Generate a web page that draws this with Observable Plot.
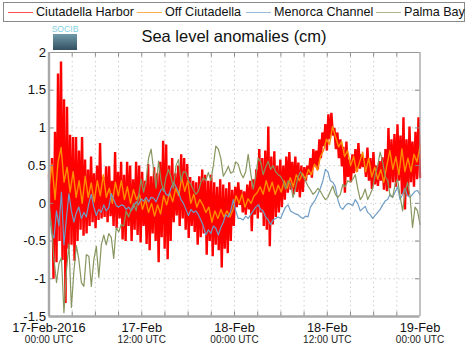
<!DOCTYPE html>
<html><head><meta charset="utf-8">
<script src="https://cdn.jsdelivr.net/npm/d3@7"></script>
<script src="https://cdn.jsdelivr.net/npm/@observablehq/plot@0.6"></script>
<style>
html,body{margin:0;padding:0;background:#fff;width:468px;height:353px;overflow:hidden;font-family:"Liberation Sans",sans-serif}
#wrap{position:relative;width:468px;height:353px}
#legend{position:absolute;left:3px;top:2px;width:460px;height:18px;border:1px solid #8a8a8a;font-size:12.6px;color:#111;background:#fff}
#legend span{position:absolute;top:1px;white-space:nowrap;line-height:16px}
#legend i{position:absolute;top:8.5px;height:1.5px;width:25px}
#title{position:absolute;left:0;width:468px;text-align:center;top:26px;font-size:16.5px;line-height:20px;color:#111}
#logoT{position:absolute;left:50px;top:25px;width:30px;text-align:center;font-size:8.6px;line-height:9px;color:#7fd0e0}
#logoB{position:absolute;left:53px;top:34px;width:24px;height:16px;background:linear-gradient(#6f9aaa,#34505f)}
#chart{position:absolute;left:0;top:0}
</style></head><body>
<div id="wrap">
<div id="chart"></div>
<div id="legend"></div>
<div id="logoT">SOCIB</div><div id="logoB"></div>
<div id="title">Sea level anomalies (cm)</div>
</div>
<script>
const seriesNames = ["Ciutadella Harbor","Off Ciutadella","Menorca Channel","Palma Bay"];
const seriesColors = ["#ff0000","#ff8c00","#6f9cc4","#87965f"];
const redHigh = [.38,.6,.95,1.72,1.88,1.38,1.28,.91,.88,.88,.7,.88,.58,.45,.62,.4,.5,.8,.35,.49,.49,.3,.68,.42,.55,.38,.55,.5,.32,.55,.5,.42,.3,.52,.36,.48,.4,.55,.83,.78,.5,.6,.4,.5,.65,.6,.52,.35,.3,.28,.36,.45,.38,.3,.38,.28,.22,.32,.25,.2,.28,.18,.22,.28,.18,.16,.25,.3,.32,.45,.72,.6,.7,1.02,.62,.69,.5,.58,.5,.62,.68,.55,.62,.54,.5,.48,.5,.6,.72,.7,.85,.94,1.05,1.18,1.2,1.0,.94,.85,.75,.82,.58,.65,.72,.8,.65,.6,.74,.6,.68,.5,.56,.61,.72,1.0,.85,.92,1.05,.9,1.14,.85,1.02,.82,.95,1.14];
const redLow = [-.3,-1.0,-.78,-.5,-.75,-1.32,-.6,-.55,-.76,-.5,-.35,-.43,-.4,-.3,-.25,-.33,-.22,-.2,-.18,-.25,-.17,-.3,-.33,-.2,-.48,-.5,-.3,-.5,-.35,-.42,-.52,-.3,-.54,-.62,-.4,-.5,-.78,-.45,-.6,-.74,-.5,-.25,-.16,-.3,-.2,-.35,-.46,-.3,-.38,-.55,-.45,-.4,-.68,-.5,-.7,-.55,-.62,-.85,-.6,-.66,-.5,-.3,-.05,-.02,-.12,-.15,-.08,-.37,-.15,-.2,-.12,-.3,-.35,-.57,-.28,-.18,-.12,-.05,.05,.14,.18,.12,.15,.08,.15,.3,.38,.34,.49,.45,.6,.76,.7,.85,.9,.72,.6,.49,.14,.35,.28,.4,.42,.46,.48,.35,.3,.19,.25,.23,.3,.18,.16,.2,.28,.22,.3,.12,-.08,.1,.28,.22,.32,.35];
const orangeValues = [.2,.52,.05,.55,.74,.28,.48,.15,.42,.08,.3,.0,.36,.08,.27,.02,.3,.1,.38,.08,.2,.0,.28,.1,.3,.05,.22,.0,.18,.05,.12,-.08,.05,-.12,.0,-.17,-.02,-.14,.1,-.02,.14,.02,.2,.1,.34,.16,.3,.0,.12,-.05,.05,-.02,-.12,-.05,-.25,-.1,-.2,-.08,-.18,-.1,-.18,-.08,.1,.0,.12,-.05,.06,.0,.1,.14,.22,.12,.3,.16,.28,.12,.24,.15,.3,.2,.34,.22,.38,.3,.4,.32,.45,.38,.52,.44,.62,.7,.85,.78,1.02,.88,.75,.82,.62,.7,.5,.62,.42,.55,.68,.42,.6,.35,.48,.32,.45,.28,.5,.7,.45,.62,.38,.72,.42,.6,.42,.65,.55,.75];
const blueValues = [0,-.4,-.46,-.1,-.3,.15,-.55,-.2,.13,-.1,-.25,-.12,-.05,-.2,-.12,-.18,0,.12,-.05,-.16,-.08,-.12,-.02,-.1,-.06,.13,.05,-.03,-.05,-.02,-.03,-.08,-.05,-.1,-.04,.02,-.02,.06,.03,.08,.02,.08,.07,.02,.1,.18,.2,.12,.1,.2,.28,.22,.15,.05,0,-.08,-.16,-.08,-.12,-.1,-.15,-.22,-.3,-.42,-.35,-.4,-.3,-.33,-.42,-.32,-.25,-.15,-.18,-.1,.05,-.1,-.2,-.2,-.22,-.17,-.2,-.15,-.1,-.05,-.02,-.08,-.1,-.18,-.22,-.28,-.22,-.2,-.18,-.2,-.12,-.05,-.02,-.1,-.12,-.14,-.15,-.18,-.2,-.17,-.18,-.05,0,.05,.12,.2,.3,.45,.42,.3,.28,.22,.05,-.05,-.08,-.03,0,-.01,-.03,.05,0,-.1,-.07,-.04,-.12,-.15,-.2,-.16,-.12,-.08,-.02,.03,.05,.12,.08,.15,.22,.05,.12,.2,.1,.08,.12,.16,.17,.12];
const oliveValues = [0,-.3,-.74,-1.05,-.8,-.72,-1.45,-.9,-.54,-1.38,-.9,-.56,-.75,-1.05,-1.1,-.68,-.7,-1.1,-.75,-.57,-.98,-.55,-.42,-.55,-.4,-.45,-.73,-.32,-.38,-.28,-.3,-.1,-.18,-.08,0,-.1,.1,.32,.15,.3,.6,.72,.45,.2,.56,.3,.16,.35,.45,.35,.2,.5,.58,.3,.42,.41,.3,.25,.18,.12,.16,.28,.34,.3,.41,.3,.5,.76,.72,.6,.36,.42,.49,.4,.42,.55,.52,.4,.34,.42,.65,.4,.19,.35,.6,.55,.38,.48,.56,.45,.5,.42,.38,.36,.3,.19,.3,.26,.08,.2,.35,.42,.36,.3,.23,.18,.12,.15,.2,.16,.1,.05,.08,.16,.23,.12,.08,.12,.25,.22,.3,.28,.32,.38,.2,.05,.1,.19,.05,.12,.2,.38,.5,.68,.55,.36,.3,.1,.08,.25,.32,.1,-.1,.15,.28,.1,-.32,-.05,-.1,-.28];
const yTicks = [-1.5,-1,-.5,0,.5,1,1.5,2];
const dateLabels = ["17-Feb-2016","17-Feb","18-Feb","18-Feb","19-Feb"];
const timeLabels = ["00:00 UTC","12:00 UTC","00:00 UTC","12:00 UTC","00:00 UTC"];
const labelHours = [0,12,24,36,48];

const t0 = Date.UTC(2016,1,17), t1 = Date.UTC(2016,1,19);
const at = h => new Date(t0 + h*3600e3);
const spread = (vals,i) => at(i*48/(vals.length-1));
const red = redHigh.flatMap((v,i)=>[
  {t:at(i*48/(redHigh.length-.5)),v},
  {t:at((i+.5)*48/(redHigh.length-.5)),v:redLow[i]}
]);
const ser = vals => vals.map((v,i)=>({t:spread(vals,i),v}));
const hourTicks = d3.range(0,49,3).map(at);
const inner = hourTicks.slice(1,-1);
const labels = labelHours.map((h,i)=>({t:at(h),d:dateLabels[i],u:timeLabels[i]}));
const ff = '"Liberation Sans",sans-serif';
const frameC = "#a8a8a8";

const plot = Plot.plot({
  width:468,height:353,marginLeft:48.5,marginRight:48.5,marginTop:52,marginBottom:37,
  style:{fontFamily:ff,background:"transparent",overflow:"visible"},
  x:{type:"utc",domain:[new Date(t0),new Date(t1)],axis:null},
  y:{domain:[-1.5,2],axis:null},
  marks:[
    Plot.ruleX(inner,{stroke:"#c4c4c4",strokeDasharray:"1.2,3.4",strokeWidth:1}),
    Plot.ruleY(yTicks.slice(1,-1),{stroke:"#c4c4c4",strokeDasharray:"1.2,3.4",strokeWidth:1}),
    Plot.lineY(red,{x:"t",y:"v",stroke:seriesColors[0],strokeWidth:2.4,strokeLinejoin:"bevel"}),
    Plot.lineY(ser(orangeValues),{x:"t",y:"v",stroke:seriesColors[1],strokeWidth:1.4}),
    Plot.lineY(ser(blueValues),{x:"t",y:"v",stroke:seriesColors[2],strokeWidth:1.2}),
    Plot.lineY(ser(oliveValues),{x:"t",y:"v",stroke:seriesColors[3],strokeWidth:1.2}),
    Plot.ruleX(inner,{y1:-1.5,y2:-1.44,stroke:"#8a8a8a"}),
    Plot.ruleX(inner,{y1:1.94,y2:2,stroke:"#8a8a8a"}),
    Plot.ruleY(yTicks.slice(1,-1),{x1:()=>new Date(t0),x2:()=>at(.6),stroke:"#8a8a8a"}),
    Plot.ruleY(yTicks.slice(1,-1),{x1:()=>at(47.4),x2:()=>new Date(t1),stroke:"#8a8a8a"}),
    Plot.ruleY([2],{stroke:"#999",strokeWidth:1.2}),
    Plot.ruleX([new Date(t1)],{stroke:"#999",strokeWidth:1.2}),
    Plot.ruleX([new Date(t0)],{stroke:frameC,strokeWidth:2.4}),
    Plot.ruleY([-1.5],{stroke:frameC,strokeWidth:2.4}),
    Plot.text(yTicks,{x:()=>new Date(t0),y:d=>d,text:d=>String(d),textAnchor:"end",dx:-3,fontSize:13.2,fill:"#111"}),
    Plot.text(labels,{x:"t",text:"d",frameAnchor:"bottom",dy:11,fontSize:12.8,fill:"#111",lineAnchor:"middle"}),
    Plot.text(labels,{x:"t",text:"u",frameAnchor:"bottom",dy:23,fontSize:10,fill:"#222",lineAnchor:"middle"})
  ]
});
document.getElementById("chart").appendChild(plot);

const legend = document.getElementById("legend");
const lineX=[4,133,242,372], textX=[32,161,270,400];
seriesNames.forEach((n,i)=>{
  const l=document.createElement("i");l.style.left=lineX[i]+"px";l.style.background=seriesColors[i];l.style.opacity=.7;legend.appendChild(l);
  const s=document.createElement("span");s.style.left=textX[i]+"px";s.textContent=n;legend.appendChild(s);
});
</script>
</body></html>
